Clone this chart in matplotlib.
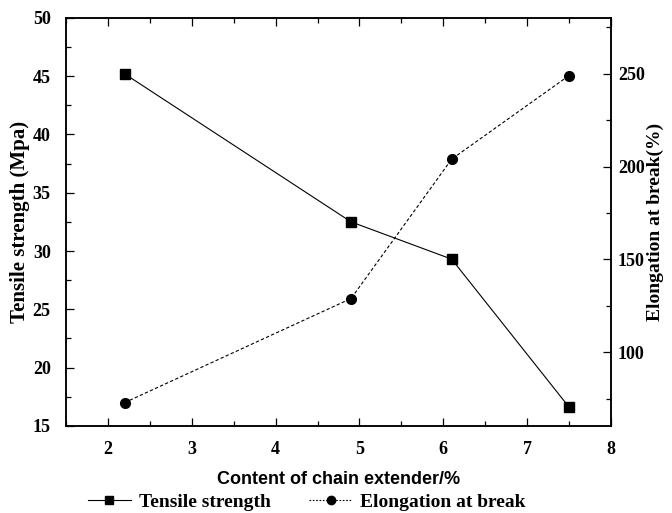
import matplotlib
matplotlib.use("Agg")
import matplotlib.pyplot as plt
from matplotlib.ticker import MultipleLocator
from matplotlib.lines import Line2D

# Chain extender content (%) and measured properties
content = [2.2, 4.9, 6.1, 7.5]
tensile_strength = [45.2, 32.5, 29.3, 16.6]     # MPa
elongation = [73, 129, 204, 249]                 # %

serif = "Liberation Serif"
sans = "Liberation Sans"

fig = plt.figure(figsize=(6.72, 5.13), dpi=100)
ax = fig.add_axes([0.0982, 0.170, 0.811, 0.795])
ax2 = ax.twinx()

ax.plot(content, tensile_strength, color="black", lw=0.8, marker="s",
        markersize=6.5, linestyle="-")
ax2.plot(content, elongation, color="black", lw=0.8, marker="o",
         markersize=7, linestyle=(0, (3, 2)))

ax.set_xlim(1.5, 8)
ax.set_ylim(15, 50)
ax2.set_ylim(60.5, 280)

ax.xaxis.set_major_locator(MultipleLocator(1))
ax.xaxis.set_minor_locator(MultipleLocator(0.5))
ax.yaxis.set_major_locator(MultipleLocator(5))
ax.yaxis.set_minor_locator(MultipleLocator(2.5))
ax2.yaxis.set_major_locator(MultipleLocator(50))
ax2.yaxis.set_minor_locator(MultipleLocator(25))

ax.tick_params(axis="x", which="both", direction="in", top=True, bottom=True)
ax.tick_params(axis="y", which="both", direction="in", left=True, right=False)
ax2.tick_params(axis="y", which="both", direction="in")
for a in (ax, ax2):
    a.tick_params(which="major", length=6, width=0.9)
    a.tick_params(which="minor", length=3.5, width=0.9)
    for s in a.spines.values():
        s.set_linewidth(1.1)
ax.tick_params(axis="x", which="major", pad=11)
ax.tick_params(axis="y", which="major", pad=11)
ax2.tick_params(axis="y", which="major", pad=5)

ax.set_xticks([2, 3, 4, 5, 6, 7, 8])
for lbl in ax.get_xticklabels() + ax.get_yticklabels() + ax2.get_yticklabels():
    lbl.set_fontfamily(serif)
    lbl.set_fontweight("bold")
    lbl.set_fontsize(13)

ax.set_xlabel("Content of chain extender/%", fontfamily=sans,
              fontweight="bold", fontsize=13, labelpad=9)
ax.set_ylabel("Tensile strength (Mpa)", fontfamily=serif,
              fontweight="bold", fontsize=15, labelpad=2)
ax2.set_ylabel("Elongation at break(%)", fontfamily=serif,
               fontweight="bold", fontsize=14, labelpad=1)

handles = [
    Line2D([], [], color="black", lw=0.8, marker="s", markersize=6,
           linestyle="-"),
    Line2D([], [], color="black", lw=0.8, marker="o", markersize=6,
           linestyle=(0, (1.5, 1.5))),
]
fig.legend(handles, ["Tensile strength", "Elongation at break"],
           loc="lower left", bbox_to_anchor=(0.105, -0.03), ncol=2,
           frameon=False, handlelength=2.2, handletextpad=0.4,
           columnspacing=2.0,
           prop={"family": serif, "weight": "bold", "size": 14})

fig.savefig("out.png", dpi=100)
